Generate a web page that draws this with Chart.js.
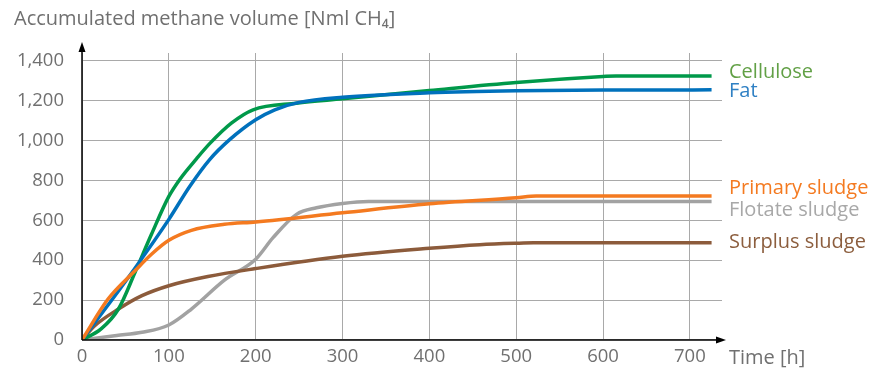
<!DOCTYPE html>
<html>
<head>
<meta charset="utf-8">
<script src="https://cdn.jsdelivr.net/npm/chart.js@4/dist/chart.umd.min.js"></script>
<style>
	html, body { margin: 0; padding: 0; background: #fff; }
	#wrap { width: 872px; height: 369px; position: relative; }
</style>
</head>
<body>
<div id="wrap"><canvas id="MethaneChart"></canvas></div>
<script>
// series names
const seriesNames = ["Cellulose", "Fat", "Primary sludge", "Flotate sludge", "Surplus sludge"];

// time [h] / volume [Nml CH4]
const celluloseX = [0, 22, 42, 61, 80, 100, 113, 132, 147, 172, 197, 247, 300, 400, 500, 600, 615, 725];
const celluloseY = [0, 55, 155, 338, 530, 720, 808, 910, 985, 1088, 1155, 1188, 1210, 1252, 1292, 1322, 1325, 1325];

const fatX = [0, 30, 61, 100, 124, 147, 170, 200, 222, 250, 300, 400, 500, 600, 725];
const fatY = [0, 175, 360, 605, 770, 905, 1005, 1105, 1155, 1192, 1218, 1240, 1250, 1254, 1255];

const primaryX = [0, 30, 61, 80, 100, 126, 164, 200, 300, 400, 500, 523, 725];
const primaryY = [0, 205, 347, 430, 500, 550, 580, 592, 638, 683, 713, 722, 722];

const flotateX = [0, 40, 69, 100, 126, 164, 200, 220, 247, 270, 300, 330, 400, 725];
const flotateY = [0, 22, 38, 75, 155, 300, 405, 513, 630, 663, 685, 695, 695, 695];

const surplusX = [0, 15, 42, 69, 100, 145, 200, 300, 400, 458, 500, 520, 725];
const surplusY = [0, 72, 155, 222, 272, 318, 358, 420, 460, 478, 485, 487, 487];

const xTicks = [0, 100, 200, 300, 400, 500, 600, 700];
const yTicks = [0, 200, 400, 600, 800, 1000, 1200, 1400];

// styles
const lineColors = ["#00994a", "#0071bc", "#f47a20", "#a2a2a2", "#8c5b3b"];
const labelColors = ["#62a046", "#2f80c4", "#f47a20", "#a8a8a8", "#8c5e3e"];
const labelShift = [-4, 1, -8, 9, -1];
const drawOrder = [3, 2, 1, 5, 4];

const txtGray = "#707070";
const gridGray = "#a9a9a9";
const fontFam = "'Open Sans', 'Noto Sans', sans-serif";

function pts(xs, ys) {
	return xs.map(function (x, i) { return { x: x, y: ys[i] }; });
}

const allSeries = [
	pts(celluloseX, celluloseY),
	pts(fatX, fatY),
	pts(primaryX, primaryY),
	pts(flotateX, flotateY),
	pts(surplusX, surplusY),
];

const extras = {
	id: "extras",
	afterDatasetsDraw(chart) {
		const c = chart.ctx;
		const a = chart.chartArea;
		const xs = chart.scales.x, ys = chart.scales.y;
		const x0 = xs.getPixelForValue(0), y0 = ys.getPixelForValue(0);
		c.save();
		// axes with arrows
		c.strokeStyle = "#000";
		c.fillStyle = "#000";
		c.lineWidth = 1.5;
		c.beginPath();
		c.moveTo(x0, y0);
		c.lineTo(x0, a.top - 6);
		c.moveTo(x0, y0);
		c.lineTo(a.right + 1, y0);
		c.stroke();
		c.beginPath();
		c.moveTo(x0, a.top - 11);
		c.lineTo(x0 - 3.5, a.top - 1);
		c.lineTo(x0 + 3.5, a.top - 1);
		c.closePath();
		c.fill();
		c.beginPath();
		c.moveTo(a.right + 4, y0);
		c.lineTo(a.right - 6, y0 - 3.5);
		c.lineTo(a.right - 6, y0 + 3.5);
		c.closePath();
		c.fill();

		// series labels at line ends
		c.font = "20px " + fontFam;
		c.textBaseline = "middle";
		c.textAlign = "left";
		chart.data.datasets.forEach(function (ds, i) {
			const last = ds.data[ds.data.length - 1];
			c.fillStyle = labelColors[i];
			c.fillText(seriesNames[i], 729, ys.getPixelForValue(last.y) + labelShift[i]);
		});

		// axis titles
		c.fillStyle = txtGray;
		c.textBaseline = "alphabetic";
		c.fillText("Time [h]", 729, 364);
		c.fillText("Accumulated methane volume [Nml CH\u2084]", 14, 25);
		c.restore();
	},
};

const ctx = document.getElementById("MethaneChart");
const myChart = new Chart(ctx, {
	type: "line",
	data: {
		datasets: allSeries.map(function (d, i) {
			return {
				label: seriesNames[i],
				data: d,
				borderColor: lineColors[i],
				borderWidth: 3.5,
				pointRadius: 0,
				fill: false,
				cubicInterpolationMode: "monotone",
				order: drawOrder[i],
			};
		}),
	},
	options: {
		responsive: true,
		maintainAspectRatio: false,
		animation: false,
		layout: {
			padding: { top: 53, right: 150, left: 0, bottom: 0 },
		},
		plugins: {
			legend: { display: false },
			tooltip: { enabled: false },
		},
		scales: {
			x: {
				type: "linear",
				min: 0,
				max: 737,
				afterBuildTicks: function (s) {
					s.ticks = xTicks.map(function (v) { return { value: v }; });
				},
				afterFit: function (s) { s.height = 28; },
				grid: { color: gridGray, lineWidth: 1, drawTicks: false },
				border: { display: false },
				ticks: {
					padding: 6,
					color: txtGray,
					font: { family: fontFam, size: 18.5 },
					callback: function (v) { return String(v); },
				},
			},
			y: {
				type: "linear",
				min: 0,
				max: 1440,
				afterBuildTicks: function (s) {
					s.ticks = yTicks.map(function (v) { return { value: v }; });
				},
				afterFit: function (s) { s.width = 82; },
				grid: { color: gridGray, lineWidth: 1, drawTicks: false },
				border: { display: false },
				ticks: {
					padding: 18,
					color: txtGray,
					font: { family: fontFam, size: 18.5 },
					callback: function (v) { return v.toLocaleString("en-US"); },
				},
			},
		},
	},
	plugins: [extras],
});
</script>
</body>
</html>
